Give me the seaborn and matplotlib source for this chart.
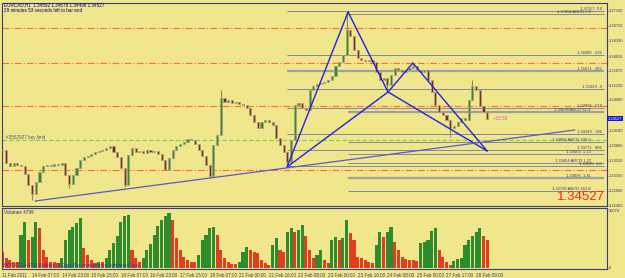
import numpy as np
import pandas as pd
import matplotlib
matplotlib.use('Agg')
import matplotlib.pyplot as plt
import seaborn as sns

# H1 closes, one value per 2 bars (EURCAD, 11-28 Feb 2011)
closes = [
    1.33778, 1.33467, 1.33396, 1.33467, 1.33419, 1.33396, 1.33204, 1.32941, 1.32726, 1.33013,
    1.33252, 1.33396, 1.33419, 1.33396, 1.33443, 1.33419, 1.33467, 1.33180, 1.32965, 1.33180,
    1.33348, 1.33539, 1.33611, 1.33635, 1.33682, 1.33730, 1.33754, 1.33778, 1.33826, 1.33874,
    1.33730, 1.33611, 1.33348, 1.32941, 1.33658, 1.33826, 1.33730, 1.33754, 1.33706, 1.33778,
    1.33730, 1.33754, 1.33682, 1.33539, 1.33300, 1.33587, 1.33778, 1.33874, 1.33921, 1.33969,
    1.34041, 1.34017, 1.33921, 1.33778, 1.33635, 1.33419, 1.33157, 1.33897, 1.34136, 1.35021,
    1.34925, 1.34973, 1.34901, 1.34925, 1.34877, 1.34853, 1.34782, 1.34614, 1.34447, 1.34304,
    1.34447, 1.34495, 1.34447, 1.34375, 1.34065, 1.33897, 1.33730, 1.33491, 1.34017, 1.34853,
    1.34901, 1.34782, 1.34734, 1.35212, 1.35308, 1.35355, 1.35379, 1.35403, 1.35451, 1.35547,
    1.35786, 1.35881, 1.36048, 1.36646, 1.36503, 1.36168, 1.35977, 1.35929, 1.35905, 1.35929,
    1.35881, 1.35642, 1.35451, 1.35499, 1.35331, 1.35570, 1.35738, 1.35690, 1.35642, 1.35690,
    1.35738, 1.35786, 1.35690, 1.35642, 1.35690, 1.35451, 1.35164, 1.34853, 1.34686, 1.34614,
    1.34495, 1.34304, 1.34352, 1.34447, 1.34543, 1.34495, 1.34973, 1.35308, 1.35212, 1.34830,
    1.34686, 1.34527,
]

volumes = [
    2780, 1740, 1390, 1040, 1040, 5740, 8000, 4870, 5390, 8000,
    6950, 3130, 1910, 1040, 1040, 870, 1740, 4870, 6600, 7130,
    7820, 8690, 3480, 2260, 1390, 870, 1040, 1040, 1740, 3130,
    4350, 5560, 8000, 9040, 9210, 3130, 1740, 1040, 1740, 3130,
    4170, 5740, 7300, 8340, 9040, 9560, 8340, 5210, 3130, 1910,
    1390, 1040, 1040, 2260, 4870, 5740, 6950, 7130, 5740, 3130,
    1740, 1040, 700, 700, 1040, 2780, 3650, 3130, 2780, 2610,
    1390, 870, 520, 4000, 5210, 3130, 2780, 6260, 6950, 6260,
    6600, 7470, 5560, 3130, 1740, 2260, 3130, 1390, 870, 4870,
    5390, 4870, 5210, 8340, 6080, 4870, 1910, 1740, 1390, 1040,
    870, 4000, 6260, 5390, 6260, 7130, 4520, 3130, 1910, 1560,
    1390, 1390, 1220, 4350, 4520, 4870, 6430, 6950, 3130, 1910,
    1040, 520, 1220, 1560, 1740, 4000, 4870, 5560, 6260, 6950,
    5560, 4870,
]

# long wicks that stand out (bar, price)
wick_bars = [8, 18, 33, 56, 59, 77, 93, 104, 111, 121, 127]
wick_prices = [1.32590, 1.32870, 1.32890, 1.33100, 1.35212, 1.33372, 1.37076,
               1.35164, 1.35857, 1.34089, 1.35451]

tick_bars = list(range(0, 129, 8))
tick_labels = ["11 Feb 2011", "14 Feb 07:00", "14 Feb 23:00", "15 Feb 15:00",
               "16 Feb 07:00", "16 Feb 23:00", "17 Feb 15:00", "18 Feb 07:00",
               "21 Feb 00:00", "21 Feb 16:00", "22 Feb 08:00", "23 Feb 00:00",
               "23 Feb 16:00", "24 Feb 08:00", "25 Feb 00:00", "27 Feb 17:00",
               "28 Feb 09:00"]

price_ticks = [1.37100, 1.36750, 1.36390, 1.36020, 1.35670, 1.35320, 1.34980,
               1.34240, 1.33880, 1.33520, 1.33160, 1.32800, 1.32460]

# harmonic pattern X, A, B, C, D
pattern_bars = [76.9, 93.4, 104.2, 110.9, 131.0]
pattern_prices = [1.33372, 1.37076, 1.35164, 1.35857, 1.33754]

trend_bars = [8.8, 154.7]
trend_prices = [1.32559, 1.34256]

# retracement levels drawn from X, projections drawn from A
fib_prices = [1.37100, 1.36048, 1.35666, 1.35236, 1.34782, 1.34160, 1.33778, 1.33396]
fib_labels = ["1.37117  0.0", "1.36080  .236", "1.35671  .382", "1.35329  .5",
              "1.34986  .618", "1.34149  .786", "1.33771  .886", "1.33395  1.0"]
abcd_prices = [1.37028, 1.34686, 1.33969, 1.33682, 1.33467, 1.33109, 1.32798]
abcd_labels = ["1.37064 ABCD 0.0", "1.34698 ABCD 61.8", "1.33808 ABCD 100.0",
               "1.33603  1.13", "1.33454 ABCD 1.27", "1.33096  1.41",
               "1.32790 ABCD 161.8"]
thick_prices = [1.35666, 1.34686, 1.33109]

order_prices = [1.36694, 1.35857, 1.34830, 1.33300]
buy_limit = 1.34017
last_price = 1.34527

BG = "#F0E68C"
NAVY = "#3C3C7A"
SMALL = 3.3
AXIS = 2.9

sns.set_style("white")
plt.rcParams['font.family'] = ['Liberation Sans', 'DejaVu Sans']


def fx(x):
    return x / 625


def fy(y):
    return 1 - y / 278


fig = plt.figure(figsize=(6.25, 2.78), dpi=100)
fig.patch.set_facecolor(BG)
ax = fig.add_axes([fx(2), fy(206), 605 / 625, 203 / 278])
axv = fig.add_axes([fx(2), fy(269), 605 / 625, 61 / 278])
for a in (ax, axv):
    a.set_facecolor(BG)
    for s in a.spines.values():
        s.set_color(NAVY)
        s.set_linewidth(0.8)

n = len(closes)
bars = np.arange(n)
opens = [closes[0]] + closes[:-1]

# horizontal level lines
for p in order_prices:
    ax.axhline(p, color="#FF6A3D", lw=0.8, ls=(0, (6, 2, 1, 2)), zorder=1)
ax.axhline(buy_limit, color="#7FD04A", lw=0.8, ls=(0, (4, 2)), zorder=1)
for p, lab in zip(fib_prices, fib_labels):
    thick = p in thick_prices
    ax.hlines(p, pattern_bars[0], 162.5, color="#A0A0A0" if thick else "#8585A0",
              lw=1.6 if thick else 0.7, zorder=1)
    ax.text(162.0, p + 0.00008, lab, ha="right", va="bottom", fontsize=3.0, color=NAVY)
for p, lab in zip(abcd_prices, abcd_labels):
    thick = p in thick_prices
    ax.hlines(p, pattern_bars[1], 162.5, color="#A0A0A0" if thick else "#8585A0",
              lw=1.6 if thick else 0.7, zorder=1)
    ax.text(159.0, p + 0.00008, lab, ha="right", va="bottom", fontsize=3.0, color=NAVY)

# candles
for b, p in zip(wick_bars, wick_prices):
    ax.vlines(b, min(opens[b], closes[b], p), max(opens[b], closes[b], p),
              color="#8E8A5A", lw=0.8, zorder=2)
up = [c >= o for o, c in zip(opens, closes)]
lo = [min(o, c) for o, c in zip(opens, closes)]
hi = [max(o, c) for o, c in zip(opens, closes)]
ax.bar(bars, np.array(hi) - np.array(lo) + 0.00012, bottom=np.array(lo) - 0.00006,
       width=0.55, color=["#2F8F2F" if u else "#8B2323" for u in up],
       edgecolor="#ABA577", linewidth=0.7, zorder=3)

# pattern and trend line
for i, j in [(0, 1), (1, 2), (2, 3), (3, 4), (0, 2), (2, 4)]:
    ax.plot([pattern_bars[i], pattern_bars[j]], [pattern_prices[i], pattern_prices[j]],
            color="#2323E0", lw=1.0, zorder=4)
ax.plot(trend_bars, trend_prices, color="#5A5AC8", lw=0.9, zorder=4)

ax.text(1, buy_limit + 0.0001, "#3552927 buy limit", fontsize=SMALL, color="#40607A",
        va="bottom")
ax.text(132.5, last_price, "+15 53", fontsize=SMALL, color="#E050D0", va="center")

ax.set_xlim(-0.135, 163.38)
ax.set_ylim(1.32440, 1.37291)
ax.yaxis.tick_right()
ax.set_yticks(price_ticks)
ax.set_yticklabels([f"{t:.5f}" for t in price_ticks])
ax.tick_params(axis="y", labelsize=AXIS, colors=NAVY, length=1, width=0.6, pad=0.5)
ax.set_xticks([])
ax.text(1.0015, last_price, f"{last_price:.5f}", transform=ax.get_yaxis_transform(),
        fontsize=AXIS, color="white", va="center", ha="left",
        bbox=dict(boxstyle="square,pad=0.15", fc="#1515E0", ec="none"))

# volume panel
vol_df = pd.DataFrame({"bar": bars, "volume": volumes})
vol_df["dir"] = ["up" if i > 0 and volumes[i] > volumes[i - 1] else "down"
                 for i in range(n)]
sns.barplot(data=vol_df, x="bar", y="volume", hue="dir", native_scale=True,
            palette={"up": "#1E9A1E", "down": "#FF2A00"}, dodge=False, width=0.85,
            legend=False, ax=axv, edgecolor="none", zorder=2)
axv.set_xlim(-0.135, 163.38)
axv.set_ylim(-174, 10427)
axv.set_xlabel("")
axv.set_ylabel("")
axv.yaxis.tick_right()
axv.set_yticks([0, 10079])
axv.set_yticklabels(["0", "10079"])
axv.tick_params(axis="y", labelsize=AXIS, colors=NAVY, length=1, width=0.6, pad=0.5)
axv.set_xticks(tick_bars)
axv.set_xticklabels(tick_labels, ha="left")
axv.tick_params(axis="x", labelsize=SMALL, colors=NAVY, length=2, width=0.6, pad=1,
                direction="out")

fig.text(fx(4), fy(5), "EURCAD,H1  1.34592 1.34678 1.34496 1.34527",
         fontsize=SMALL, color="#000080", va="center")
fig.text(fx(4), fy(10), "29 minutes 53 seconds left to bar end",
         fontsize=SMALL, color="#000080", va="center")
fig.text(fx(4), fy(213), "Volumes 4799", fontsize=SMALL, color="#303050", va="center")
fig.text(fx(4), fy(265), "MTF ECN - FTS Brokers, 5 Digit, Sst Investments Software Corp.",
         fontsize=SMALL, color="#3030C0", va="center")
fig.text(fx(605), fy(197), "1.34527", fontsize=9.5, color="#FF2020",
         ha="right", va="center")

fig.savefig("out.png", dpi=100, facecolor=BG)
